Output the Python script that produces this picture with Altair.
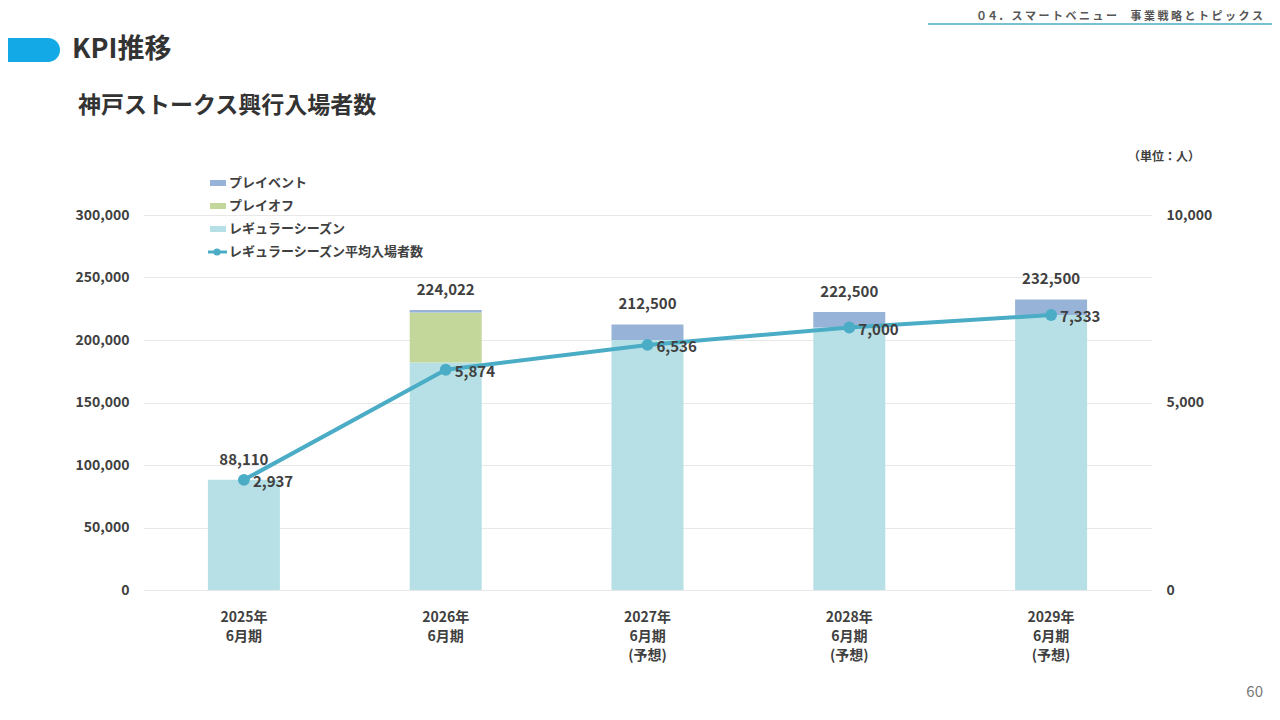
import altair as alt
import pandas as pd

FONT = "Noto Sans CJK JP"
GREY = "#404040"

periods = ["2025年|6月期", "2026年|6月期", "2027年|6月期|(予想)", "2028年|6月期|(予想)", "2029年|6月期|(予想)"]
regular = [88110, 182094, 200000, 210000, 220000]
playoff = [0, 39928, 0, 0, 0]
pre_event = [0, 2000, 12500, 12500, 12500]
totals = [88110, 224022, 212500, 222500, 232500]
avg_regular = [2937, 5874, 6536, 7000, 7333]

series = ["レギュラーシーズン", "プレイオフ", "プレイベント"]
colors = ["#b7e0e6", "#c4d79b", "#97b3d8"]

rows = []
for i, p in enumerate(periods):
    for k, (s, v) in enumerate(zip(series, [regular[i], playoff[i], pre_event[i]])):
        rows.append({"period": p, "series": s, "value": v, "order": k})
bars_df = pd.DataFrame(rows)
tot_df = pd.DataFrame({"period": periods, "total": totals})
line_df = pd.DataFrame({"period": periods, "avg": avg_regular})

x = alt.X("period:N", sort=periods, title=None,
          axis=alt.Axis(labelExpr="split(datum.label, '|')", labelAngle=0, domain=False, ticks=False,
                        labelFontSize=14, labelFontWeight="bold", labelColor=GREY, labelFont=FONT,
                        labelPadding=20, labelLineHeight=19))

y1 = alt.Y("value:Q", aggregate="sum", title=None, scale=alt.Scale(domain=[0, 300000]),
           axis=alt.Axis(values=[0, 50000, 100000, 150000, 200000, 250000, 300000],
                         labelExpr="format(datum.value, ',')",
                         domain=False, ticks=False, gridColor="#e8e8e8", labelFontSize=14,
                         labelFontWeight="bold", labelColor=GREY, labelFont=FONT, labelPadding=14))
bars = alt.Chart(bars_df).mark_bar(size=72).encode(
    x=x, y=y1,
    color=alt.Color("series:N", scale=alt.Scale(domain=series, range=colors), legend=None),
    order=alt.Order("order:Q"),
)
tot_text = alt.Chart(tot_df).mark_text(dy=-20, fontSize=15, fontWeight="bold", color=GREY, font=FONT).encode(
    x=alt.X("period:N", sort=periods), y=alt.Y("total:Q", scale=alt.Scale(domain=[0, 300000])),
    text=alt.Text("total:Q", format=","))
bar_layer = alt.layer(bars, tot_text)

y2 = alt.Y("avg:Q", title=None, scale=alt.Scale(domain=[0, 10000]),
           axis=alt.Axis(orient="right", values=[0, 5000, 10000], labelExpr="format(datum.value, ',')",
                         domain=False, ticks=False,
                         grid=False, labelFontSize=14, labelFontWeight="bold", labelColor=GREY,
                         labelFont=FONT, labelPadding=14))
line = alt.Chart(line_df).mark_line(color="#4bacc6", strokeWidth=4).encode(x=alt.X("period:N", sort=periods), y=y2)
pts = alt.Chart(line_df).mark_circle(color="#4bacc6", size=140, opacity=1).encode(x=alt.X("period:N", sort=periods), y=y2)
line_text = alt.Chart(line_df).mark_text(align="left", dx=9, dy=2, fontSize=15, fontWeight="bold",
                                         color=GREY, font=FONT).encode(
    x=alt.X("period:N", sort=periods), y=y2, text=alt.Text("avg:Q", format=","))
line_layer = alt.layer(line, pts, line_text)

main = alt.layer(bar_layer, line_layer).resolve_scale(y="independent")


def px(f):
    return alt.X(f, scale=None, axis=None)


def py(f):
    return alt.Y(f, scale=None, axis=None)


def txt(items, **kw):
    df = pd.DataFrame(items, columns=["x", "y", "t"])
    return alt.Chart(df).mark_text(font=FONT, baseline="middle", **kw).encode(
        x=px("x:Q"), y=py("y:Q"), text="t:N")


leg_y = [-32, -9, 14, 37]
leg_labels = ["プレイベント", "プレイオフ", "レギュラーシーズン", "レギュラーシーズン平均入場者数"]
deco = [
    txt([[1120, -198, "０４． ス マ ー ト ベ ニ ュ ー　 事 業 戦 略 と ト ピ ッ ク ス"]], align="right", fontSize=11,
        fontWeight="bold", color="#555555"),
    alt.Chart(pd.DataFrame({"a": [785], "b": [1129], "y": [-191]})).mark_rule(color="#4bacc6", strokeWidth=1.5).encode(
        x=px("a:Q"), x2="b:Q", y=py("y:Q")),
    alt.Chart(pd.DataFrame({"a": [-160], "b": [-83], "y": [-177], "y2": [-153]})).mark_rect(
        color="#12a9e6", cornerRadius=12).encode(x=px("a:Q"), x2="b:Q", y=py("y:Q"), y2="y2:Q"),
    txt([[-71, -165, "KPI推移"]], align="left", fontSize=27, fontWeight="bold", color="#333333"),
    txt([[-65, -109, "神戸ストークス興行入場者数"]], align="left", fontSize=23, fontWeight="bold", color="#333333"),
    txt([[1057, -58, "（単位：人）"]], align="right", fontSize=12, fontWeight="bold", color=GREY),
    txt([[1120, 477, "60"]], align="right", fontSize=15, color="#777777"),
    txt([[86, yy, l] for yy, l in zip(leg_y, leg_labels)], align="left", fontSize=13,
        fontWeight="bold", color=GREY),
    alt.Chart(pd.DataFrame({"a": [67] * 3, "b": [83] * 3, "y": [y - 3 for y in leg_y[:3]],
                            "y2": [y + 3 for y in leg_y[:3]], "c": colors[::-1]})).mark_rect().encode(
        x=px("a:Q"), x2="b:Q", y=py("y:Q"), y2="y2:Q", color=alt.Color("c:N", scale=None)),
    alt.Chart(pd.DataFrame({"a": [65], "b": [84], "y": [37]})).mark_rule(color="#4bacc6", strokeWidth=3).encode(
        x=px("a:Q"), x2="b:Q", y=py("y:Q")),
    alt.Chart(pd.DataFrame({"a": [74], "y": [37]})).mark_point(filled=True, color="#4bacc6", size=50, opacity=1).encode(
        x=px("a:Q"), y=py("y:Q")),
]

chart = alt.layer(main, *deco).properties(
    width=1009, height=375,
    autosize=alt.AutoSizeParams(type="none"),
    padding={"left": 135, "top": 207, "right": 120, "bottom": 110},
).configure(background="white").configure_view(stroke=None)

chart.save("out.html", embed_options={"renderer": "svg", "actions": False})
